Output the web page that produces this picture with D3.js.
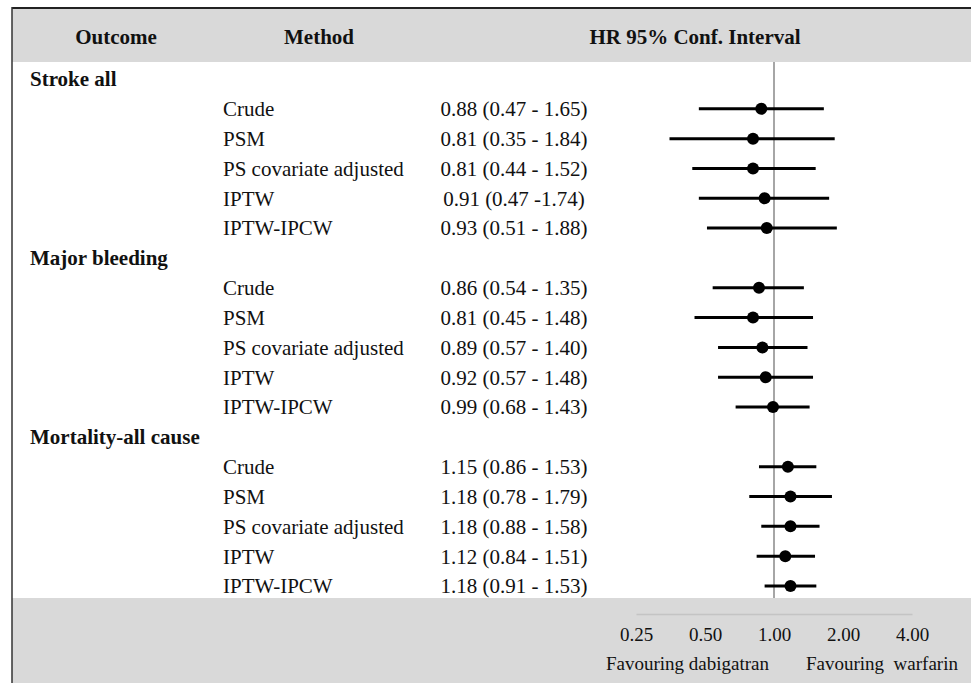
<!DOCTYPE html>
<html>
<head>
<meta charset="utf-8">
<title>Forest plot</title>
<style>
  body { margin: 0; background: white; }
  svg text { font-family: "Liberation Serif", Tinos, "Times New Roman", "DejaVu Serif", serif; fill: #111; }
</style>
</head>
<body>
<div class="container"></div>
<script src="https://cdnjs.cloudflare.com/ajax/libs/d3/7.8.5/d3.min.js"></script>
<script>
var wd = 971, ht = 683

// data
var outcomes = ["Stroke all", "Major bleeding", "Mortality-all cause"]
var methods = ["Crude", "PSM", "PS covariate adjusted", "IPTW", "IPTW-IPCW"]
var hr = [0.88, 0.81, 0.81, 0.91, 0.93,
          0.86, 0.81, 0.89, 0.92, 0.99,
          1.15, 1.18, 1.18, 1.12, 1.18]
var lower = [0.47, 0.35, 0.44, 0.47, 0.51,
             0.54, 0.45, 0.57, 0.57, 0.68,
             0.86, 0.78, 0.88, 0.84, 0.91]
var upper = [1.65, 1.84, 1.52, 1.74, 1.88,
             1.35, 1.48, 1.40, 1.48, 1.43,
             1.53, 1.79, 1.58, 1.51, 1.53]
var ciText = ["0.88 (0.47 - 1.65)", "0.81 (0.35 - 1.84)", "0.81 (0.44 - 1.52)", "0.91 (0.47 -1.74)", "0.93 (0.51 - 1.88)",
              "0.86 (0.54 - 1.35)", "0.81 (0.45 - 1.48)", "0.89 (0.57 - 1.40)", "0.92 (0.57 - 1.48)", "0.99 (0.68 - 1.43)",
              "1.15 (0.86 - 1.53)", "1.18 (0.78 - 1.79)", "1.18 (0.88 - 1.58)", "1.12 (0.84 - 1.51)", "1.18 (0.91 - 1.53)"]
var tickVals = [0.25, 0.5, 1, 2, 4]
var favourLabels = ["Favouring dabigatran", "Favouring  warfarin"]

var serif = '"Liberation Serif", Tinos, "Times New Roman", "DejaVu Serif", serif'

// build row list: one heading row per outcome, then its methods
var rows = []
var k = 0
outcomes.forEach(function(o) {
  rows.push({type: "group", label: o})
  methods.forEach(function(m) {
    rows.push({type: "est", method: m, hr: hr[k], lo: lower[k], hi: upper[k], txt: ciText[k]})
    k++
  })
})

var svg = d3.select(".container").append("svg")
  .attr("width", wd)
  .attr("height", ht)

var x = d3.scaleLog().base(2).domain([0.25, 4]).range([636, 912])
var y = d3.scaleLinear().domain([0, rows.length - 1]).range([79, 586])

var headTop = 9, headBot = 62, footTop = 598

// grey bands
svg.append("rect").attr("x", 12).attr("y", headTop).attr("width", wd - 12).attr("height", headBot - headTop).attr("fill", "#d9d9d9")
svg.append("rect").attr("x", 12).attr("y", footTop).attr("width", wd - 12).attr("height", ht - footTop).attr("fill", "#d9d9d9")

// frame lines (top + left)
svg.append("line").attr("x1", 12).attr("x2", wd).attr("y1", 8).attr("y2", 8).attr("stroke", "#222").attr("stroke-width", 2)
svg.append("line").attr("x1", 12).attr("x2", 12).attr("y1", 7).attr("y2", ht).attr("stroke", "#333").attr("stroke-width", 1.5)

// headers
var hdr = [["Outcome", 116], ["Method", 319], ["HR 95% Conf. Interval", 695]]
svg.selectAll(".hdr").data(hdr).enter().append("text")
  .attr("class", "hdr")
  .attr("x", function(d) { return d[1] })
  .attr("y", 37)
  .attr("dy", "0.35em")
  .attr("text-anchor", "middle")
  .style("font-family", serif)
  .style("font-weight", "bold")
  .style("font-size", "21px")
  .text(function(d) { return d[0] })

// reference line at HR = 1
svg.append("line")
  .attr("x1", x(1)).attr("x2", x(1))
  .attr("y1", headBot).attr("y2", footTop)
  .attr("stroke", "#888").attr("stroke-width", 1.5)

var g = svg.selectAll(".row").data(rows).enter().append("g")
  .attr("class", "row")
  .attr("transform", function(d, i) { return "translate(0," + y(i) + ")" })

g.filter(function(d) { return d.type == "group" }).append("text")
  .attr("x", 30).attr("dy", "0.35em")
  .style("font-family", serif)
  .style("font-weight", "bold").style("font-size", "21px")
  .text(function(d) { return d.label })

var est = g.filter(function(d) { return d.type == "est" })
est.append("text")
  .attr("x", 223).attr("dy", "0.35em")
  .style("font-family", serif)
  .style("font-size", "21px")
  .text(function(d) { return d.method })
est.append("text")
  .attr("x", 514).attr("dy", "0.35em")
  .attr("text-anchor", "middle")
  .style("font-family", serif)
  .style("font-size", "21px")
  .text(function(d) { return d.txt })
est.append("line")
  .attr("x1", function(d) { return x(d.lo) })
  .attr("x2", function(d) { return x(d.hi) })
  .attr("stroke", "black").attr("stroke-width", 3)
est.append("circle")
  .attr("cx", function(d) { return x(d.hr) })
  .attr("r", 6)
  .attr("fill", "black")

// bottom axis
var axis = svg.append("g")
  .attr("transform", "translate(0,614)")
  .call(d3.axisBottom(x).tickValues(tickVals).tickFormat(d3.format(".2f")).tickSize(0).tickPadding(14))
axis.select(".domain").attr("stroke", "#c4c4c4").attr("stroke-width", 1.5)
axis.attr("font-family", null).attr("font-size", null)
axis.selectAll("text")
  .style("font-family", serif)
  .style("font-size", "19px")
  .attr("fill", "#111")

svg.selectAll(".fav").data(favourLabels).enter().append("text")
  .attr("class", "fav")
  .attr("x", function(d, i) { return i == 0 ? 606 : 806 })
  .attr("y", 663)
  .attr("dy", "0.35em")
  .style("font-family", serif)
  .style("font-size", "19px")
  .style("white-space", "pre")
  .text(function(d) { return d })
</script>
</body>
</html>
